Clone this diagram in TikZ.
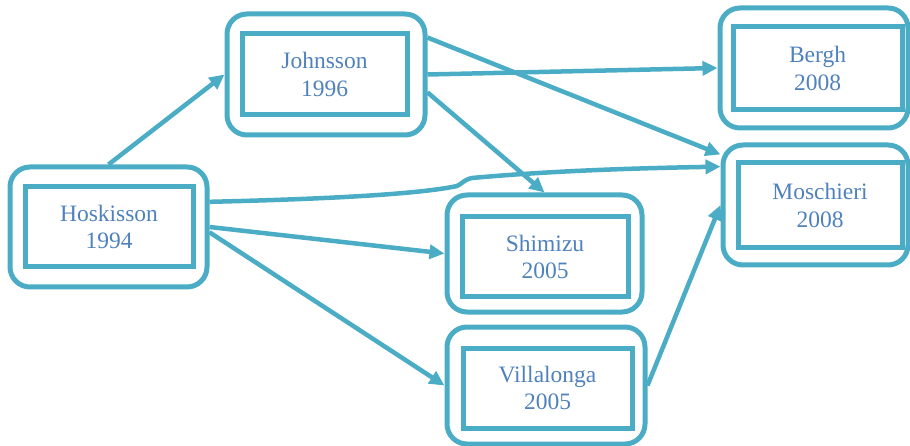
\documentclass[tikz,border=0pt]{standalone}
\usepackage{fontspec}
\setmainfont{Liberation Serif}
\usetikzlibrary{arrows.meta}
\definecolor{aqua}{RGB}{75,172,198}
\definecolor{txtblue}{RGB}{79,129,189}
\begin{document}
\begin{tikzpicture}[x=1pt,y=1pt,
  outerbox/.style={draw=aqua, line width=5pt, rounded corners=20pt, inner sep=0pt},
  innerbox/.style={draw=aqua, line width=5pt, inner sep=0pt, align=center,
    text=txtblue, font=\fontsize{23.5}{27.5}\selectfont},
  conn/.style={draw=aqua, line width=4.5pt, -{Triangle[length=15pt,width=14pt]}}]
\useasboundingbox (0,0) rectangle (910,-446);
% outer boxes
\node[outerbox, minimum width=197pt, minimum height=120pt] (hos) at (108.5,-227) {};
\node[outerbox, minimum width=198pt, minimum height=121pt] (joh) at (326,-74.5) {};
\node[outerbox, minimum width=188pt, minimum height=120pt] (ber) at (814,-68) {};
\node[outerbox, minimum width=185pt, minimum height=120pt] (mos) at (815.5,-205) {};
\node[outerbox, minimum width=195pt, minimum height=117pt] (shi) at (544.5,-253.5) {};
\node[outerbox, minimum width=198pt, minimum height=117pt] (vil) at (546,-385.5) {};
% inner boxes
\node[innerbox, minimum width=168pt, minimum height=80pt] (hosi) at (109,-227) {Hoskisson\\1994};
\node[innerbox, minimum width=165pt, minimum height=81pt] (johi) at (324.5,-74.5) {Johnsson\\1996};
\node[innerbox, minimum width=169pt, minimum height=83pt] (beri) at (817.5,-68.5) {Bergh\\2008};
\node[innerbox, minimum width=164pt, minimum height=85pt] (mosi) at (820,-205.5) {Moschieri\\2008};
\node[innerbox, minimum width=166pt, minimum height=80pt] (shii) at (545,-257) {Shimizu\\2005};
\node[innerbox, minimum width=169pt, minimum height=80pt] (vili) at (547.5,-388) {Villalonga\\2005};
% connectors
\draw[conn] (hos.north) -- (joh.west);
\draw[conn] (joh.east) -- (ber.west);
\draw[conn] (joh.20) -- (mos.152);
\draw[conn] (joh.-10) -- (shi.north);
\draw[conn] (hos.14) .. controls (330,-199) and (420,-194) .. (457,-186)
  .. controls (462,-184) and (463,-180) .. (472,-178)
  .. controls (560,-170) and (650,-168) .. (mos.158);
\draw[conn] (hos.0) -- (shi.west);
\draw[conn] (hos.-3) -- (vil.west);
\draw[conn] (vil.east) -- (mos.west);
\end{tikzpicture}
\end{document}
